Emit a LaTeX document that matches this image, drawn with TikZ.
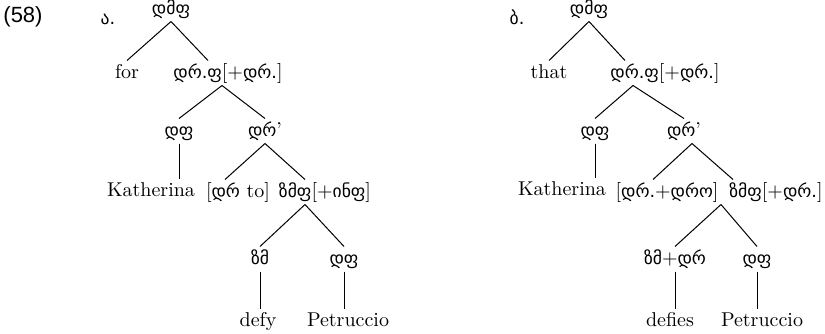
\documentclass[tikz,border=0pt]{standalone}
\usepackage{fontspec}
\newfontfamily\geo[Scale=0.88]{DejaVu Sans}
\newfontfamily\numfont{Liberation Sans}

\begin{document}
\begin{tikzpicture}[x=0.5pt,y=-0.5pt,line width=0.5pt,
  lab/.style={inner sep=1.5pt,text height=7pt,text depth=2pt,font=\fontsize{10}{12}\selectfont}]
\useasboundingbox (0,0) rectangle (825,333);

\node[font=\numfont\fontsize{11}{13}\selectfont] (num) at (23,17) {(58)};

\node[lab] (labA) at (108,19) {\geo ა.};
\node[lab] (cpA) at (171,9) {\geo დმფ};
\node[lab] (forA) at (127,73) {for};
\node[lab] (tpA) at (228,73) {{\geo დრ.ფ}[+{\geo დრ.}]};
\node[lab] (dfA) at (179,131) {\geo დფ};
\node[lab] (drpA) at (265,131) {{\geo დრ}’};
\node[lab] (katA) at (151,191) {Katherina};
\node[lab] (brA) at (238,192) {[{\geo დრ} to]};
\node[lab] (vpA) at (325,192) {{\geo ზმფ}[+{\geo ინფ}]};
\node[lab] (vA) at (260,259) {\geo ზმ};
\node[lab] (dfA2) at (344,259) {\geo დფ};
\node[lab] (defyA) at (258,321) {defy};
\node[lab] (petA) at (348,321) {Petruccio};

\draw (cpA.south) -- (forA.north);
\draw (cpA.south) -- ([xshift=-10pt]tpA.north);
\draw ([xshift=-3pt]tpA.south) -- (dfA.north);
\draw ([xshift=-3pt]tpA.south) -- (drpA.north);
\draw (dfA.south) -- (dfA.south |- katA.north);
\draw (drpA.south) -- ([xshift=-6.5pt]brA.north);
\draw (drpA.south) -- ([xshift=-10pt]vpA.north);
\draw ([xshift=-10pt]vpA.south) -- (vA.north);
\draw ([xshift=-10pt]vpA.south) -- (dfA2.north);
\draw (vA.south) -- (vA.south |- defyA.north);
\draw (dfA2.south) -- (dfA2.south |- petA.north);

\node[lab] (labB) at (517,19) {\geo ბ.};
\node[lab] (cpB) at (589,9) {\geo დმფ};
\node[lab] (thatB) at (549,73) {that};
\node[lab] (tpB) at (665,73) {{\geo დრ.ფ}[+{\geo დრ.}]};
\node[lab] (dfB) at (595,131) {\geo დფ};
\node[lab] (drpB) at (684,131) {{\geo დრ}’};
\node[lab] (katB) at (562,190) {Katherina};
\node[lab] (brB) at (667,192) {[{\geo დრ.}+{\geo დრო}]};
\node[lab] (vpB) at (776,192) {{\geo ზმფ}[+{\geo დრ.}]};
\node[lab] (vB) at (675,259) {{\geo ზმ}+{\geo დრ}};
\node[lab] (dfB2) at (757,259) {\geo დფ};
\node[lab] (defB) at (670,321) {defies};
\node[lab] (petB) at (762,321) {Petruccio};

\draw (cpB.south) -- (thatB.north);
\draw (cpB.south) -- ([xshift=-20pt]tpB.north);
\draw ([xshift=-16pt]tpB.south) -- (dfB.north);
\draw ([xshift=-16pt]tpB.south) -- (drpB.north);
\draw (dfB.south) -- (dfB.south |- katB.north);
\draw ([xshift=4pt]drpB.south) -- ([xshift=-7pt]brB.north);
\draw ([xshift=4pt]drpB.south) -- ([xshift=-21.5pt]vpB.north);
\draw ([xshift=-27.5pt]vpB.south) -- (vB.north);
\draw ([xshift=-27.5pt]vpB.south) -- (dfB2.north);
\draw (vB.south) -- (vB.south |- defB.north);
\draw (dfB2.south) -- (dfB2.south |- petB.north);
\end{tikzpicture}
\end{document}
